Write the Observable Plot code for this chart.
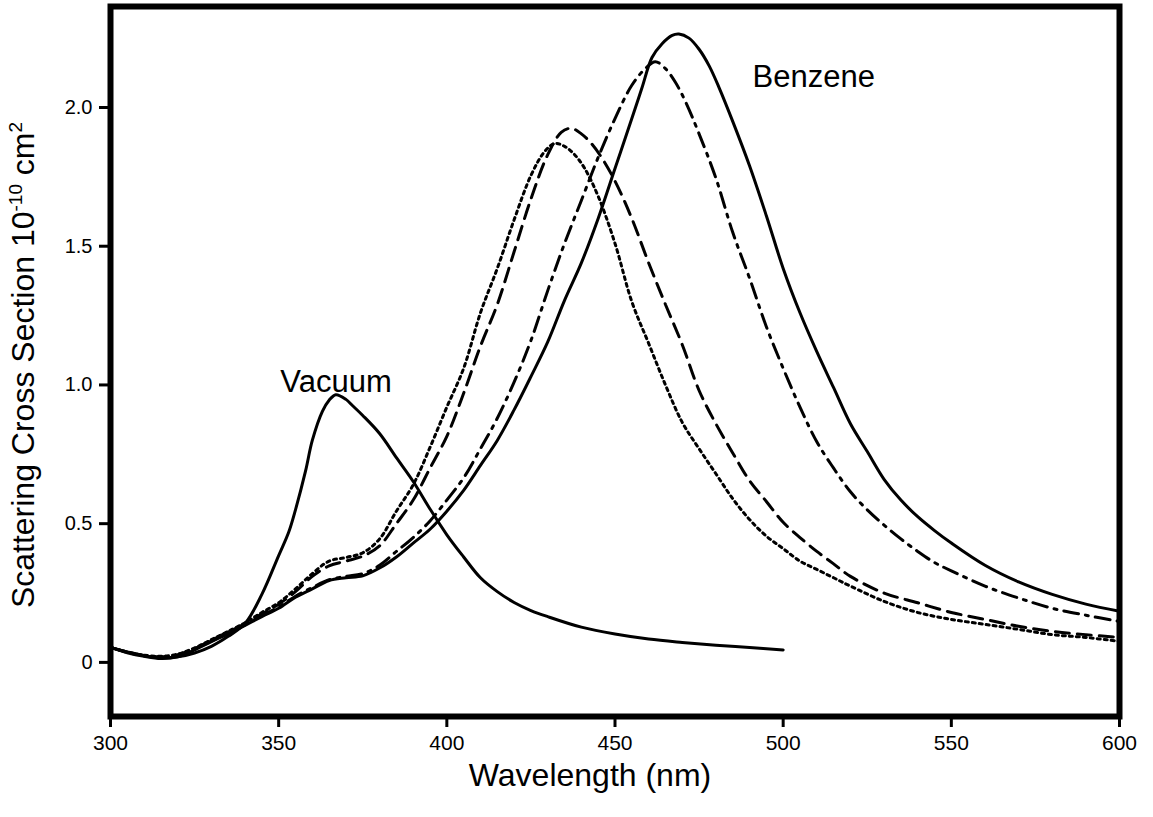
<!DOCTYPE html>
<html><head><meta charset="utf-8">
<script src="https://cdn.jsdelivr.net/npm/d3@7"></script>
<script src="https://cdn.jsdelivr.net/npm/@observablehq/plot@0.6"></script>
<style>
body{margin:0;background:#fff} svg{display:block}
</style>
</head><body><div id="chart"></div>
<script>
// Tick values
const xTicks = [300, 350, 400, 450, 500, 550, 600];
const yTicks = [0, 0.5, 1.0, 1.5, 2.0];

// Vacuum (solid)
const vacuumWl  = [300,305,310,315,320,325,330,335,340,345,350,353,355,358,360,363,365,367,370,372,375,380,385,390,395,400,405,410,415,420,425,430,440,450,460,470,480,490,500];
const vacuumVal = [0.054,0.038,0.024,0.016,0.02,0.034,0.058,0.094,0.14,0.245,0.385,0.47,0.55,0.69,0.80,0.905,0.945,0.965,0.948,0.925,0.89,0.825,0.738,0.652,0.553,0.46,0.38,0.305,0.255,0.216,0.187,0.165,0.127,0.102,0.084,0.072,0.062,0.054,0.045];

// Dotted
const dottedWl  = [300,305,310,315,320,325,330,335,340,345,350,355,360,365,370,375,380,385,390,395,400,405,410,415,420,425,429,432,435,438,441,445,450,455,460,465,470,475,480,485,490,495,500,505,510,515,520,530,540,550,560,570,580,590,600];
const dottedVal = [0.054,0.037,0.026,0.022,0.03,0.052,0.082,0.112,0.143,0.18,0.215,0.265,0.32,0.365,0.378,0.395,0.445,0.545,0.64,0.775,0.92,1.06,1.26,1.42,1.595,1.755,1.84,1.87,1.86,1.83,1.78,1.68,1.51,1.30,1.15,1.0,0.865,0.77,0.68,0.59,0.515,0.455,0.41,0.365,0.335,0.305,0.275,0.22,0.18,0.155,0.137,0.119,0.10,0.09,0.076];

// Dashed
const dashedWl  = [300,305,310,315,320,325,330,335,340,345,350,355,360,365,370,375,380,385,390,395,400,405,410,415,420,425,430,434,437,440,443,446,450,455,460,465,470,475,480,485,490,495,500,505,510,515,520,530,540,550,560,570,580,590,600];
const dashedVal = [0.054,0.037,0.025,0.02,0.028,0.05,0.08,0.11,0.14,0.175,0.21,0.255,0.31,0.348,0.365,0.383,0.42,0.50,0.585,0.70,0.815,0.97,1.14,1.29,1.48,1.67,1.83,1.91,1.925,1.905,1.87,1.82,1.735,1.60,1.44,1.29,1.145,0.98,0.86,0.755,0.655,0.58,0.505,0.45,0.40,0.355,0.31,0.25,0.215,0.18,0.155,0.13,0.112,0.10,0.09];

// Dash-dot
const dashDotWl  = [300,305,310,315,320,325,330,335,340,345,350,355,360,365,370,375,380,385,390,395,400,405,410,415,420,425,430,435,440,445,450,455,459,462,465,468,471,475,480,485,490,495,500,505,510,515,520,525,530,535,540,545,550,560,570,580,590,600];
const dashDotVal = [0.054,0.036,0.024,0.018,0.025,0.048,0.077,0.105,0.135,0.168,0.20,0.238,0.27,0.298,0.31,0.32,0.35,0.40,0.45,0.51,0.585,0.665,0.77,0.88,1.01,1.16,1.34,1.51,1.665,1.82,1.96,2.08,2.14,2.165,2.14,2.09,2.02,1.905,1.745,1.55,1.385,1.21,1.06,0.92,0.795,0.70,0.615,0.55,0.495,0.445,0.40,0.36,0.33,0.275,0.232,0.195,0.17,0.148];

// Benzene (solid)
const benzeneWl  = [300,305,310,315,320,325,330,335,340,345,350,355,360,365,370,375,380,385,390,395,400,405,410,415,420,425,430,435,440,445,450,455,458,461,464,467,469,472,475,478,481,485,490,495,500,505,510,515,520,525,530,535,540,545,550,560,570,580,590,600];
const benzeneVal = [0.054,0.035,0.022,0.014,0.02,0.045,0.075,0.103,0.133,0.165,0.195,0.235,0.265,0.295,0.305,0.312,0.34,0.38,0.43,0.48,0.545,0.62,0.71,0.80,0.91,1.03,1.155,1.305,1.44,1.60,1.78,1.96,2.07,2.18,2.23,2.26,2.265,2.25,2.21,2.15,2.07,1.95,1.79,1.61,1.42,1.26,1.12,0.99,0.86,0.76,0.66,0.585,0.525,0.475,0.43,0.35,0.29,0.245,0.21,0.184];

// Annotation labels
const labelText = ["Vacuum", "Benzene"];
const labelWl   = [350.5, 490.9];
const labelVal  = [1.01, 2.108];

const zip = (xs, ys) => xs.map((x, i) => ({x, y: ys[i]}));
const labels = labelText.map((t, i) => ({text: t, x: labelWl[i], y: labelVal[i]}));

const lineOpts = {x: "x", y: "y", stroke: "black", strokeWidth: 3, curve: "catmull-rom", strokeLinejoin: "round"};

const chart = Plot.plot({
  width: 1153, height: 817,
  marginLeft: 110, marginRight: 34, marginTop: 6, marginBottom: 101,
  style: {fontFamily: "'Liberation Sans', Arial, sans-serif", background: "white", color: "black"},
  x: {domain: [300, 600]},
  y: {domain: [-0.195, 2.364]},
  marks: [
    Plot.axisX({ticks: xTicks, tickSize: 11, tickPadding: 8, fontSize: 21, strokeWidth: 3, label: null}),
    Plot.axisY({ticks: yTicks, tickSize: 11, tickPadding: 7, fontSize: 20, strokeWidth: 3, label: null,
      tickFormat: d => d === 0 ? "0" : d.toFixed(1)}),
    Plot.line(zip(vacuumWl, vacuumVal), {...lineOpts}),
    Plot.line(zip(dottedWl, dottedVal), {...lineOpts, strokeDasharray: "3,4", strokeLinejoin: "miter"}),
    Plot.line(zip(dashedWl, dashedVal), {...lineOpts, strokeDasharray: "14,8"}),
    Plot.line(zip(dashDotWl, dashDotVal), {...lineOpts, strokeDasharray: "15,7,3,7"}),
    Plot.line(zip(benzeneWl, benzeneVal), {...lineOpts}),
    Plot.text(labels, {x: "x", y: "y", text: "text", fontSize: 31, textAnchor: "start", fill: "black"}),
    Plot.frame({stroke: "black", strokeWidth: 6})
  ]
});

const svg = d3.select(chart);
svg.append("text")
  .attr("x", 590).attr("y", 786)
  .attr("text-anchor", "middle")
  .attr("font-size", 32)
  .attr("fill", "black")
  .text("Wavelength (nm)");

const yl = svg.append("text")
  .attr("transform", "translate(34,365) rotate(-90)")
  .attr("text-anchor", "middle")
  .attr("font-size", 32)
  .attr("fill", "black");
yl.append("tspan").text("Scattering Cross Section 10");
yl.append("tspan").attr("font-size", 19).attr("dy", -12).text("-10");
yl.append("tspan").attr("dy", 12).text(" cm");
yl.append("tspan").attr("font-size", 19).attr("dy", -12).text("2");

document.getElementById("chart").appendChild(chart);
</script>
</body></html>
